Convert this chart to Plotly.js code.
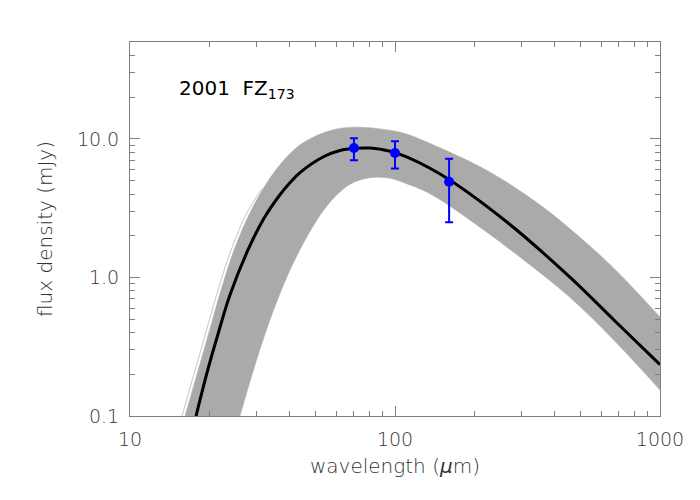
<!DOCTYPE html>
<html>
<head>
<meta charset="utf-8">
<script src="https://cdn.plot.ly/plotly-3.0.1.min.js"></script>
<style>
  body { margin: 0; background: #fff; }
  #plot { width: 700px; height: 500px; }
</style>
</head>
<body>
<div id="plot"></div>
<script>
// upper and lower edge of the grey envelope of model curves
const upperWl = [16.13, 19.19, 22.44, 24.9, 28.37, 32.31, 36.8, 43.8, 53.5, 63.6, 77.1, 87.8, 107.2, 148, 228, 352, 457, 665, 1000];
const upperFlux = [0.1, 0.319, 0.905, 1.644, 2.935, 4.59, 6.50, 9.05, 11.04, 12.0, 12.1, 11.8, 11.04, 8.61, 5.76, 3.35, 2.25, 1.18, 0.518];

const lowerWl = [26.0, 30.9, 36.2, 42.6, 53.5, 62.0, 70.6, 82.6, 95.7, 107.2, 135.5, 214.8, 314.8, 457, 676, 1000];
const lowerFlux = [0.1, 0.301, 0.706, 1.43, 3.01, 4.14, 4.90, 5.27, 5.20, 4.85, 4.02, 2.22, 1.28, 0.718, 0.346, 0.154];

// one stray light curve just outside the envelope on the Wien side
const strayWl = [15.71, 18.69, 21.86, 24.26, 27.64, 31.5];
const strayFlux = [0.1, 0.319, 0.905, 1.644, 2.935, 4.37];

// best-fit model
const modelWl = [17.75, 19.5, 21.5, 23.8, 27.9, 32.0, 36.8, 40.2, 43.8, 53.5, 62.0, 70.6, 80.5, 87.8, 101.7, 148, 265, 457, 676, 1000];
const modelFlux = [0.1, 0.2035, 0.392, 0.741, 1.585, 2.66, 3.95, 4.84, 5.71, 7.40, 8.24, 8.54, 8.59, 8.43, 7.89, 5.57, 2.50, 1.005, 0.485, 0.235];

// measured fluxes
const obsWl = [70, 100, 160];
const obsFlux = [8.6, 7.9, 4.9];
const obsErrUp = [1.5, 1.7, 2.3];
const obsErrDown = [1.6, 1.8, 2.4];

const xMajor = [10, 100, 1000];
const xMajorText = ['10', '100', '1000'];
const yMajor = [0.1, 1, 10];
const yMajorText = ['0.1', '1.0', '10.0'];

const xMinor = [];
const yMinor = [];
[10, 100].forEach(d => { for (let k = 2; k <= 9; k++) xMinor.push(k * d); });
[0.1, 1, 10].forEach(d => { for (let k = 2; k <= 9; k++) if (k * d < 50) yMinor.push(k * d); });

const grey = '#aaaaaa';
const axisColor = '#7f7f7f';
const tickFont = { family: 'DejaVu Sans, sans-serif', size: 19, color: '#333', weight: 300 };
const titleFont = { family: 'DejaVu Sans, sans-serif', size: 20, color: '#333', weight: 300 };

const traces = [
    {
        x: lowerWl, y: lowerFlux,
        mode: 'lines', line: { color: grey, width: 0.5, shape: 'spline' },
        hoverinfo: 'skip', showlegend: false
    },
    {
        x: upperWl, y: upperFlux,
        mode: 'lines', line: { color: grey, width: 0.5, shape: 'spline' },
        fill: 'tonexty', fillcolor: grey,
        hoverinfo: 'skip', showlegend: false
    },
    {
        x: strayWl, y: strayFlux,
        mode: 'lines', line: { color: '#c4c4c4', width: 1, shape: 'spline' },
        hoverinfo: 'skip', showlegend: false
    },
    {
        x: modelWl, y: modelFlux,
        mode: 'lines', line: { color: '#000', width: 3, shape: 'spline' },
        showlegend: false
    },
    {
        x: obsWl, y: obsFlux,
        mode: 'markers',
        marker: { color: '#0000ff', size: 10 },
        error_y: {
            type: 'data', symmetric: false,
            array: obsErrUp, arrayminus: obsErrDown,
            color: '#0000ff', thickness: 2, width: 4
        },
        showlegend: false
    }
];

const axisBase = {
    type: 'log',
    showgrid: false,
    zeroline: false,
    showline: true,
    linecolor: axisColor,
    linewidth: 1,
    mirror: 'ticks',
    ticks: 'inside',
    ticklen: 10,
    tickcolor: axisColor,
    tickmode: 'array',
    tickfont: tickFont
};

const layout = {
    width: 700,
    height: 500,
    margin: { l: 130, r: 40, t: 42, b: 84 },
    paper_bgcolor: '#fff',
    plot_bgcolor: '#fff',
    xaxis: Object.assign({}, axisBase, {
        range: [1, 3],
        tickvals: xMajor,
        ticktext: xMajorText,
        ticklabelstandoff: 6,
        minor: { tickvals: xMinor, ticks: 'inside', ticklen: 5, tickcolor: axisColor },
        title: { text: 'wavelength (<i>μ</i>m)', font: titleFont, standoff: 10 }
    }),
    yaxis: Object.assign({}, axisBase, {
        range: [-1, Math.log10(50)],
        tickvals: yMajor,
        ticktext: yMajorText,
        ticklabelstandoff: 6,
        minor: { tickvals: yMinor, ticks: 'inside', ticklen: 5, tickcolor: axisColor },
        title: { text: 'flux density (mJy)', font: titleFont, standoff: 18 }
    }),
    annotations: [{
        xref: 'paper', yref: 'paper',
        x: 0.088, y: 0.875,
        xanchor: 'left', yanchor: 'middle',
        showarrow: false,
        text: '2001  FZ<sub>173</sub>',
        font: { family: 'DejaVu Sans, sans-serif', size: 20, color: '#000' }
    }]
};

Plotly.newPlot('plot', traces, layout, { displayModeBar: false, staticPlot: true });
</script>
</body>
</html>
